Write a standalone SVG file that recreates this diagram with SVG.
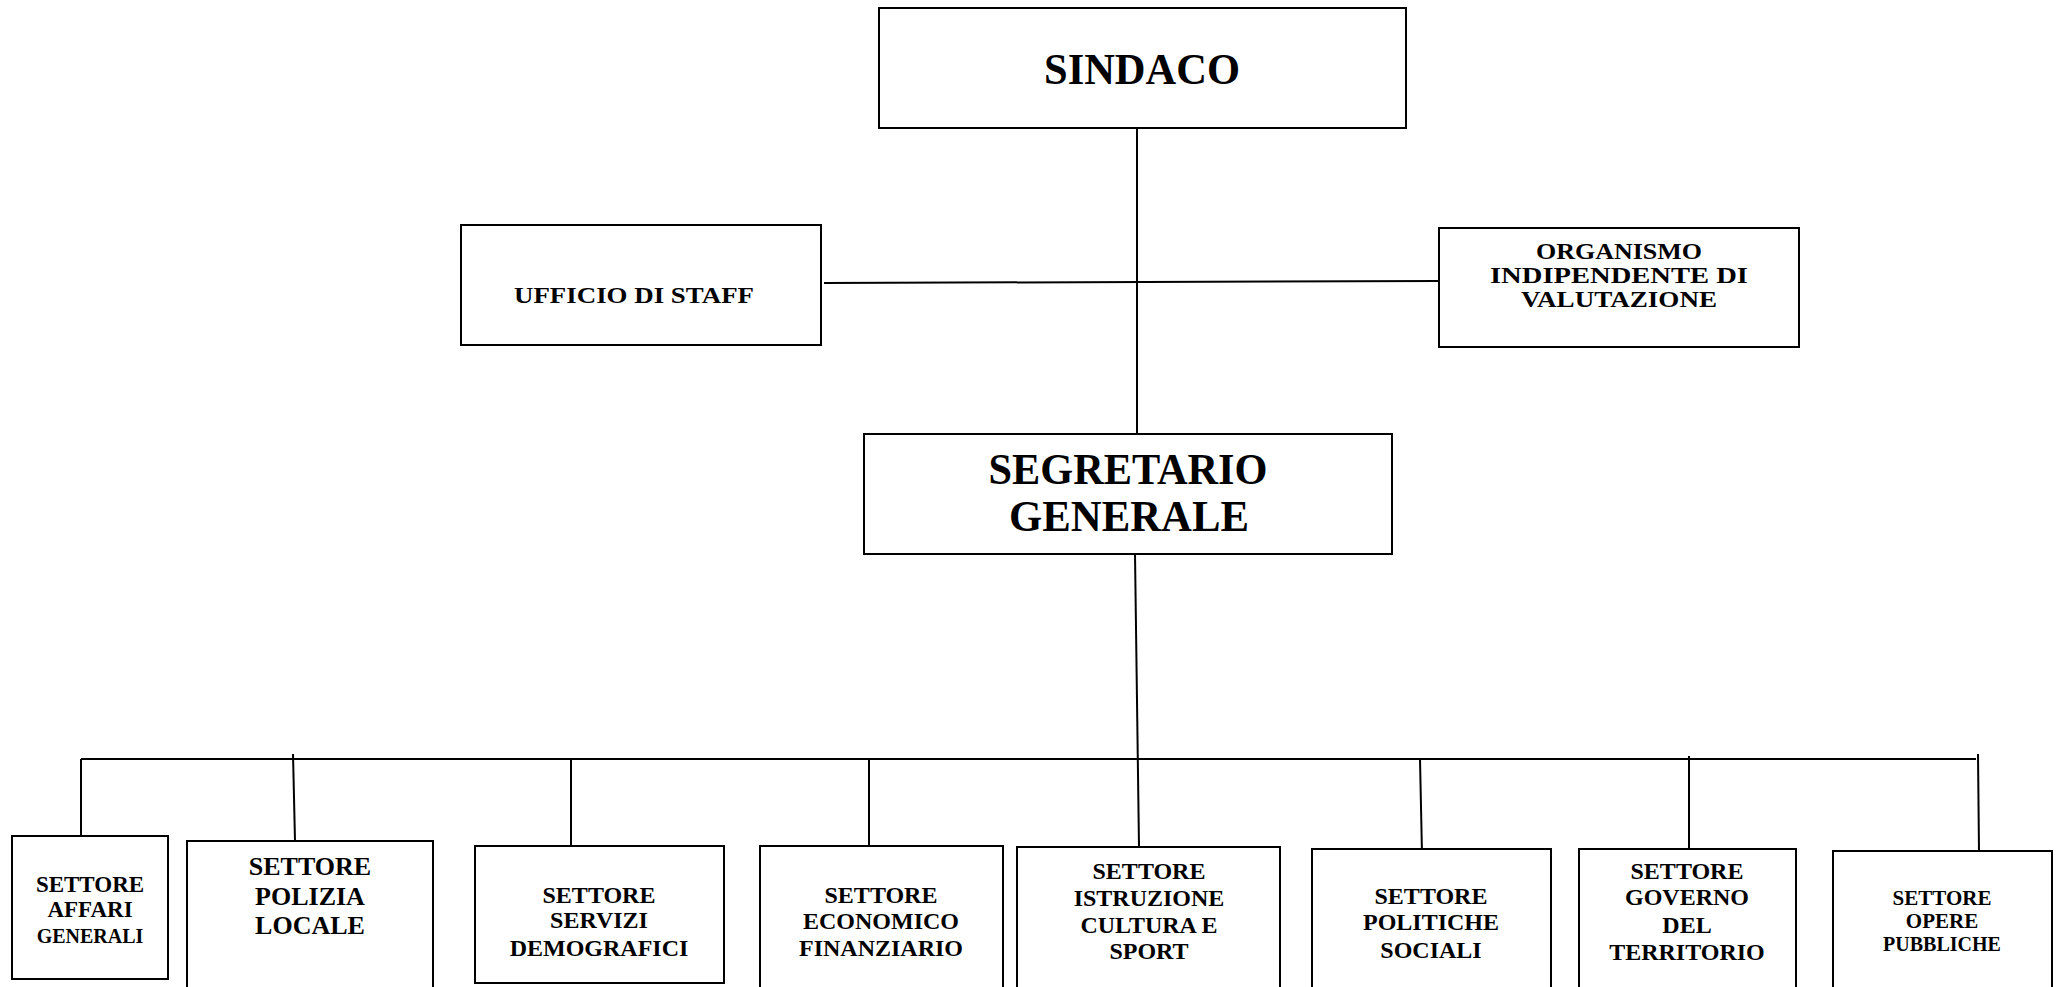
<svg xmlns="http://www.w3.org/2000/svg" width="2063" height="987" viewBox="0 0 2063 987">
<style>
.box{fill:#fff;stroke:#000;stroke-width:2}
.ln{stroke:#000;stroke-width:2;fill:none}
text{font-family:"Liberation Serif","Times New Roman",serif;font-weight:bold;fill:#000;text-anchor:middle}
.big{font-size:44px}
.mid{font-size:23px}
.s{font-size:24px}
</style>
<rect width="2063" height="987" fill="#fff"/>
<g id="connectors">
<line class="ln" x1="1137" y1="128" x2="1137" y2="434"/>
<line class="ln" x1="824" y1="283" x2="1439" y2="281"/>
<line class="ln" x1="1135" y1="554" x2="1139" y2="847"/>
<line class="ln" x1="81" y1="759" x2="1976" y2="759"/>
<line class="ln" x1="81" y1="759" x2="81" y2="836"/>
<line class="ln" x1="293" y1="754" x2="295" y2="841"/>
<line class="ln" x1="571" y1="759" x2="571" y2="846"/>
<line class="ln" x1="869" y1="759" x2="869" y2="846"/>
<line class="ln" x1="1420" y1="759" x2="1422" y2="854"/>
<line class="ln" x1="1689" y1="756" x2="1689" y2="851"/>
<line class="ln" x1="1978" y1="754" x2="1979" y2="851"/>
</g>
<g id="sindaco">
<rect class="box" x="879" y="8" width="527" height="120"/>
<text class="big" x="1142" y="84" textLength="196" lengthAdjust="spacingAndGlyphs">SINDACO</text>
</g>
<g id="ufficio-staff">
<rect class="box" x="461" y="225" width="360" height="120"/>
<text x="634" y="303" font-size="24" textLength="240" lengthAdjust="spacingAndGlyphs">UFFICIO DI STAFF</text>
</g>
<g id="oiv">
<rect class="box" x="1439" y="228" width="360" height="119"/>
<text class="mid" x="1619" y="259" textLength="166" lengthAdjust="spacingAndGlyphs">ORGANISMO</text>
<text class="mid" x="1619" y="283" textLength="258" lengthAdjust="spacingAndGlyphs">INDIPENDENTE DI</text>
<text class="mid" x="1619" y="307" textLength="196" lengthAdjust="spacingAndGlyphs">VALUTAZIONE</text>
</g>
<g id="segretario">
<rect class="box" x="864" y="434" width="528" height="120"/>
<text class="big" x="1128" y="484" textLength="279" lengthAdjust="spacingAndGlyphs">SEGRETARIO</text>
<text class="big" x="1129" y="531" textLength="240" lengthAdjust="spacingAndGlyphs">GENERALE</text>
</g>
<g id="affari-generali">
<rect class="box" x="12" y="836" width="156" height="143"/>
<text style="font-size:23px" x="90" y="892">SETTORE</text>
<text style="font-size:23px" x="90" y="917">AFFARI</text>
<text style="font-size:20px" x="90" y="943">GENERALI</text>
</g>
<g id="polizia-locale">
<rect class="box" x="187" y="841" width="246" height="170"/>
<text style="font-size:26px" x="310" y="875">SETTORE</text>
<text style="font-size:26px" x="310" y="905">POLIZIA</text>
<text style="font-size:26px" x="310" y="934">LOCALE</text>
</g>
<g id="servizi-demografici">
<rect class="box" x="475" y="846" width="249" height="137"/>
<text class="s" x="599" y="903">SETTORE</text>
<text class="s" x="599" y="928">SERVIZI</text>
<text class="s" x="599" y="956">DEMOGRAFICI</text>
</g>
<g id="economico-finanziario">
<rect class="box" x="760" y="846" width="243" height="170"/>
<text class="s" x="881" y="903">SETTORE</text>
<text class="s" x="881" y="929">ECONOMICO</text>
<text class="s" x="881" y="956">FINANZIARIO</text>
</g>
<g id="istruzione-cultura-sport">
<rect class="box" x="1017" y="847" width="263" height="170"/>
<text class="s" x="1149" y="879">SETTORE</text>
<text class="s" x="1149" y="906">ISTRUZIONE</text>
<text class="s" x="1149" y="933">CULTURA E</text>
<text class="s" x="1149" y="959">SPORT</text>
</g>
<g id="politiche-sociali">
<rect class="box" x="1312" y="849" width="239" height="170"/>
<text class="s" x="1431" y="904">SETTORE</text>
<text class="s" x="1431" y="930">POLITICHE</text>
<text class="s" x="1431" y="958">SOCIALI</text>
</g>
<g id="governo-territorio">
<rect class="box" x="1579" y="849" width="217" height="170"/>
<text class="s" x="1687" y="879">SETTORE</text>
<text class="s" x="1687" y="905">GOVERNO</text>
<text class="s" x="1687" y="933">DEL</text>
<text class="s" x="1687" y="960">TERRITORIO</text>
</g>
<g id="opere-pubbliche">
<rect class="box" x="1833" y="851" width="219" height="170"/>
<text style="font-size:21px" x="1942" y="905">SETTORE</text>
<text style="font-size:21px" x="1942" y="928">OPERE</text>
<text style="font-size:20px" x="1942" y="951">PUBBLICHE</text>
</g>
</svg>
